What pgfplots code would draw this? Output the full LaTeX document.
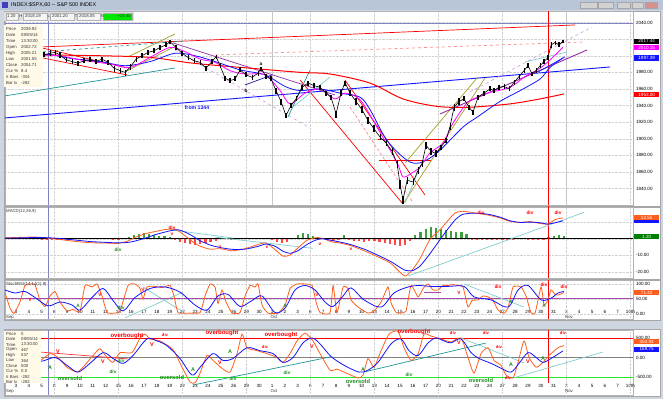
\documentclass[border=0pt]{standalone}
\usepackage{pgfplots}
\pgfplotsset{compat=1.18}
\usepackage{pgfplotstable}
\usepackage{fontspec}
\setmainfont{Liberation Sans}

\definecolor{winbg}{RGB}{206,214,226}
\definecolor{titlebg}{RGB}{184,198,216}
\definecolor{magma}{RGB}{255,0,255}
\definecolor{maBlue}{RGB}{20,20,255}
\definecolor{osc}{RGB}{255,95,30}
\definecolor{tealL}{RGB}{30,150,150}
\definecolor{cyanL}{RGB}{130,205,205}
\definecolor{oliveL}{RGB}{165,160,40}
\definecolor{purp}{RGB}{150,45,160}
\definecolor{lav}{RGB}{215,165,230}
\definecolor{salmonL}{RGB}{255,140,140}
\definecolor{grn}{RGB}{30,140,30}
\definecolor{histG}{RGB}{60,160,60}
\definecolor{histR}{RGB}{255,70,70}
\definecolor{brightG}{RGB}{40,230,40}
\definecolor{crossh}{RGB}{130,130,200}
\definecolor{infobg}{RGB}{255,249,232}
\definecolor{stochP}{RGB}{165,75,170}
\definecolor{navyL}{RGB}{30,30,150}

\newcommand{\tf}{\fontsize{4.6}{5}\selectfont}

\pgfplotstableread{
d p ep em
-0.86 1999 3 3
-0.5 1998 3 3
-0.1 2001 3 3
0.3 2000 3 3
0.7 2002 3 3
1.1 2000 3 3
1.5 2001 3 3
1.9 1999 3 3
2.19 2001 3 3
2.66 2003 4 3
3.05 2004 3 3
3.44 2001 3 4
3.91 1995 3 3
4.38 1993 3 3
4.84 1991 3 3
5.31 1994 3 3
5.78 1995 3 3
6.25 1993 3 3
6.72 1996 3 3
7.19 1992 3 3
7.66 1985 3 4
8.13 1982 3 3
8.52 1980 3 4
8.91 1986 4 3
9.38 1996 3 3
9.84 2000 3 3
10.31 2004 3 3
10.78 2006 3 3
11.25 2010 3 3
11.72 2013 3 3
12.03 2017 2 3
12.5 2010 3 3
12.97 2003 3 3
13.44 1998 3 3
13.91 1994 3 3
14.38 1992 3 3
14.84 1985 3 3
15.31 1993 3 3
15.63 1999 2 3
15.94 1988 3 3
16.33 1973 3 3
16.72 1970 3 3
17.11 1972 3 3
17.5 1983 3 3
17.97 1977 3 3
18.44 1974 3 3
18.91 1979 3 3
19.14 1985 2 3
19.53 1975 3 3
19.92 1972 3 3
20.31 1958 3 4
20.7 1945 3 4
21.09 1928 3 3
21.48 1940 3 3
21.88 1948 3 3
22.34 1962 3 3
22.81 1967 3 3
23.28 1964 3 3
23.75 1962 3 3
24.22 1955 3 3
24.61 1950 3 3
25.0 1930 4 5
25.39 1955 4 4
25.7 1968 2 4
26.09 1955 4 4
26.56 1945 4 4
27.03 1935 4 4
27.5 1922 4 4
27.97 1912 4 4
28.44 1902 4 4
28.91 1895 4 4
29.38 1885 4 4
29.77 1870 4 5
30.0 1845 5 5
30.23 1826 5 5
30.55 1850 4 4
31.02 1848 4 4
31.41 1862 4 4
31.72 1870 4 4
32.03 1892 4 4
32.42 1885 4 4
32.81 1882 4 4
33.2 1890 3 3
33.59 1898 3 3
33.91 1915 4 4
34.22 1938 4 4
34.61 1945 4 4
35.0 1948 3 3
35.39 1938 3 3
35.7 1932 3 3
36.09 1950 3 3
36.56 1955 3 3
37.03 1960 3 3
37.34 1958 3 3
37.73 1962 3 3
38.13 1963 3 3
38.52 1960 3 3
38.91 1968 3 3
39.3 1975 3 3
39.69 1982 3 3
40.0 1988 3 3
40.31 1978 3 3
40.63 1982 3 3
40.94 1988 3 3
41.25 1993 3 3
41.56 1998 3 3
41.8 2013 3 4
42.11 2016 2 3
42.42 2013 3 3
42.73 2017.44 1 2
}\price

\pgfplotstableread{
d v
-0.86 2000
2.19 2000
3.44 2000
5.0 1995
7.34 1990
8.91 1986
10.47 1998
12.03 2010
13.2 2005
14.38 1996
15.55 1992
16.72 1982
17.89 1978
19.45 1977
20.63 1958
21.41 1942
22.58 1955
23.75 1960
24.92 1948
25.7 1955
26.88 1947
28.2 1914
29.77 1871
30.23 1854
30.94 1859
31.56 1866
32.34 1883
33.36 1895
34.14 1919
35.23 1943
36.02 1950
36.8 1955
38.59 1962
39.77 1975
40.94 1985
41.72 1995
42.73 2010.15
}\mafast

\pgfplotstableread{
d v
-0.86 2001
2.19 2002
4.22 1997
6.56 1993
8.52 1988
10.47 1993
12.42 2003
13.98 2000
15.55 1993
17.5 1983
19.45 1977
21.02 1963
22.19 1958
23.75 1960
25.31 1955
26.88 1950
27.66 1935
28.98 1898
30.55 1874
31.56 1871
32.89 1883
34.92 1914
36.02 1926
37.81 1945
39.38 1958
40.94 1972
41.72 1986
42.73 1997.39
}\maslow

\pgfplotstableread{
d v
-0.86 2003
2.66 2001
6.56 2000
10.47 1998
13.83 1991
18.28 1985
22.19 1980
24.53 1978
27.66 1967
30.23 1948
32.89 1939
35.47 1938
38.59 1942
40.94 1948
42.81 1954
}\malong

\pgfplotstableread{
d m s
-0.86 0.5 0.4
0.31 0.8 0.5
1.48 1.0 0.7
2.50 0.4 0.6
3.44 -0.5 0.1
4.61 -1.6 -0.8
5.78 -2.4 -1.7
6.95 -2.6 -2.2
7.97 -2.8 -2.5
8.67 -1.6 -2.3
9.30 0.8 -1.4
10.08 3.0 0.3
10.86 4.3 2.4
11.64 5.5 4.0
12.19 5.8 5.0
12.66 4.8 5.4
13.20 1.8 4.0
13.75 -1.5 1.8
14.38 -4.5 -1.2
15.16 -6.3 -3.8
15.94 -6.0 -5.3
16.88 -7.3 -6.4
17.89 -6.0 -6.3
18.91 -3.5 -4.6
19.53 -2.6 -3.2
20.23 -6.5 -4.5
20.86 -10.5 -7.6
21.41 -9.8 -8.8
22.03 -5.5 -7.2
22.73 -1.0 -3.5
23.36 0.5 -1.0
23.91 0.3 0.0
24.61 -1.8 -1.0
25.31 -2.6 -2.0
26.17 -4.2 -3.6
27.27 -7.5 -6.5
28.28 -11.0 -10.0
29.22 -14.5 -13.5
29.84 -19.0 -16.5
30.39 -22.5 -19.0
30.94 -19.0 -19.3
31.56 -12.0 -16.5
32.34 -0.5 -9.0
33.13 5.5 -0.5
33.75 11.0 6.0
34.30 15.5 11.3
34.84 16.5 14.5
35.47 16.0 15.3
36.25 15.0 15.3
37.03 14.0 14.5
37.81 12.5 13.0
38.59 10.5 10.8
39.38 9.8 9.8
40.16 10.3 10.0
40.94 9.2 9.6
41.56 8.8 8.8
42.11 11.5 9.6
42.73 12.55 10.8
}\macd

\pgfplotstableread{
d h
-0.8 0.2
-0.4 0.3
0.0 0.3
0.4 0.4
0.8 0.4
1.2 0.3
1.6 0.2
2.0 -0.2
2.4 -0.4
2.8 -0.5
3.2 -0.5
3.6 -0.4
4.0 -0.3
4.4 0.2
4.8 0.3
5.2 0.3
5.6 0.3
6.0 0.3
6.4 0.2
6.8 0.3
7.2 0.2
7.6 -0.3
8.0 -0.4
8.4 0.4
8.8 1.2
9.2 2.2
9.6 3.0
10.0 3.3
10.4 2.8
10.8 2.2
11.2 1.8
11.6 1.4
12.0 0.8
12.4 -0.6
12.8 -1.8
13.2 -2.8
13.6 -3.4
14.0 -3.6
14.4 -3.4
14.8 -2.8
15.2 -2.2
15.6 -1.2
16.0 0.4
16.4 0.6
16.8 -0.5
17.2 0.3
17.6 0.5
18.0 0.3
18.4 0.5
18.8 0.6
19.2 0.5
19.6 0.3
20.0 -1.0
20.4 -2.0
20.8 -2.8
21.2 -1.8
21.6 0.6
22.0 2.4
22.4 3.6
22.8 3.0
23.2 1.8
23.6 0.8
24.0 0.3
24.4 -0.8
24.8 -1.2
25.2 -1.0
25.6 2.0
26.0 -0.6
26.4 -1.2
26.8 -1.6
27.2 -1.8
27.6 -1.5
28.0 -1.6
28.4 -1.8
28.8 -2.5
29.2 -3.2
29.6 -3.8
30.0 -4.5
30.4 -4.0
30.8 -1.2
31.2 2.0
31.6 4.0
32.0 5.8
32.4 7.0
32.8 6.6
33.2 6.0
33.6 5.4
34.0 4.8
34.4 4.2
34.8 4.0
35.2 3.0
35.6 -0.4
36.0 -0.5
36.4 -0.6
36.8 -0.4
37.2 -0.6
37.6 -0.8
38.0 -0.7
38.4 -0.5
38.8 -0.3
39.2 0.3
39.6 0.4
40.0 -0.3
40.4 -0.5
40.8 -0.6
41.2 -0.4
41.6 0.8
42.0 1.8
42.4 2.0
42.8 1.6
}\hist

\pgfplotstableread{
d v
-0.86 70
-0.47 20
-0.16 2
0.31 40
0.70 95
1.09 100
1.48 98
1.88 45
2.27 25
2.66 60
3.05 75
3.44 40
3.98 10
4.45 15
5.00 8
5.39 95
5.94 90
6.33 100
6.72 60
7.11 5
7.73 3
8.13 10
8.75 95
9.30 100
9.69 85
9.92 50
10.23 90
10.86 92
11.41 88
12.03 95
12.34 60
12.66 5
13.59 3
14.38 5
14.77 60
15.16 100
15.55 90
15.78 35
16.09 80
16.41 40
16.88 3
17.50 5
17.89 60
18.28 95
18.67 90
18.91 100
19.22 30
19.69 3
20.47 3
21.02 30
21.41 85
21.95 100
22.58 100
23.13 95
23.44 40
23.75 5
24.53 3
24.77 95
25.08 5
25.55 90
25.94 85
26.17 47
26.72 23
27.50 3
27.97 10
28.52 40
29.06 90
29.30 37
29.69 5
30.08 3
30.47 10
30.86 95
31.41 57
31.80 85
32.19 100
32.58 80
32.97 80
33.36 95
33.75 95
34.14 98
34.53 95
34.92 90
35.31 23
35.63 45
36.09 47
36.48 60
36.88 57
37.27 45
37.66 13
38.13 3
38.44 20
38.83 90
39.45 90
39.84 60
40.23 5
40.55 3
41.02 90
41.25 30
41.56 47
41.80 80
42.11 65
42.34 63
42.81 71.42
}\stk

\pgfplotstableread{
d v
-0.86 80
-0.08 70
0.70 75
1.48 55
2.50 27
3.44 40
4.38 30
5.00 13
5.94 55
6.80 85
7.58 45
8.36 10
9.30 55
10.47 85
11.64 90
12.81 73
13.98 30
14.92 13
15.78 60
16.56 65
17.50 25
18.44 45
19.22 60
20.23 5
21.02 20
21.80 80
22.58 95
23.36 80
24.14 40
24.77 25
25.55 60
26.17 87
27.19 47
28.52 23
29.53 70
30.63 90
31.41 95
32.42 92
33.75 92
35.00 92
35.78 57
37.11 47
38.44 23
39.22 80
40.00 95
41.02 47
41.80 53
42.34 70
42.81 75
}\std

\pgfplotstableread{
d v
-0.86 0
-0.08 -150
0.70 -50
1.33 50
1.88 -75
2.66 100
3.28 0
3.98 -250
4.77 -375
5.23 -250
6.02 50
6.56 225
7.11 0
7.58 -125
8.13 125
9.06 125
9.69 500
10.08 600
10.47 475
11.25 425
12.27 200
12.97 -250
13.59 -625
13.98 -650
14.38 -400
14.92 50
15.39 -75
16.09 -275
16.72 -375
17.27 100
17.66 600
18.05 250
18.83 175
19.61 100
20.39 0
20.86 -125
21.41 100
21.95 425
22.58 625
23.20 425
23.75 100
24.53 -325
25.08 -300
25.63 -375
26.72 -525
27.11 -450
27.50 -25
27.97 -250
28.52 175
29.14 600
29.84 675
30.31 250
30.86 -75
31.41 100
31.88 600
32.42 550
33.20 475
33.98 400
34.77 500
35.31 0
35.78 -400
36.33 100
36.88 250
37.34 -75
37.89 -200
38.28 -450
38.83 -525
39.22 -125
39.69 425
40.08 0
40.63 -250
41.17 -125
41.64 50
42.34 250
42.81 305
}\ccio

\pgfplotstableread{
d v
-0.86 -50
0.31 0
1.88 -100
3.05 0
3.98 -200
4.84 -375
5.78 -150
6.80 125
7.58 -25
8.36 -150
9.14 50
10.23 475
11.02 425
11.80 300
12.81 -25
13.75 -450
14.38 -250
15.39 100
16.17 -75
16.95 -25
18.05 250
19.06 175
20.08 100
20.86 -125
21.64 0
22.42 375
23.13 500
23.75 350
24.61 25
25.63 -200
26.80 -375
27.50 -325
28.28 -125
29.30 350
30.08 475
30.70 175
31.41 50
32.19 375
32.81 500
33.44 425
33.98 375
34.77 475
35.55 125
36.17 -25
37.11 -150
37.89 -275
38.67 -375
39.30 -150
40.00 125
40.63 0
41.17 -125
41.80 -25
42.73 170
}\ccib

\pgfplotsset{
  panel/.style={scale only axis, anchor=south west, xmin=-0.86, xmax=48.2,
    axis line style={draw=gray!60, line width=0.4pt}, tick style={draw=none},
    yticklabel pos=right, tick label style={font=\tf},
    yticklabel style={anchor=west, xshift=-0.5bp},
    grid=major, grid style={densely dotted, gray!35, line width=0.3pt},
    clip=true},
  weekgrid/.style={xtick={3,8,13,18,23,28,33,38,43,48}, xticklabels={}},
  dategrid/.style={xtick={0,...,48},
    xticklabels={3,4,5,8,9,10,11,12,15,16,17,18,19,22,23,24,25,26,29,30,1,2,3,6,7,8,9,10,13,14,15,16,17,20,21,22,23,24,27,28,29,30,31,3,4,5,6,7,10th},
    xmajorgrids=false, ymajorgrids=true,
    extra x ticks={3,8,13,18,23,28,33,38,43,48}, extra x tick labels={},
    extra x tick style={grid=major}},
  tl/.style={line width=0.7bp},
}
\tikzset{lbl/.style={font=\fontsize{4.8}{5}\selectfont\bfseries, inner sep=0pt},
  info/.style={font=\fontsize{4.3}{5}\selectfont, inner sep=0pt, anchor=west, text=black!80}}

\begin{document}
\begin{tikzpicture}
% window background and panels
\begin{scope}[x=1bp,y=-1bp,shift={(0,399bp)}]
\fill[winbg] (0,0) rectangle (663,399);
\fill[titlebg] (0,0) rectangle (663,10.5);
\fill[white, draw=gray!70] (4,11) rectangle (660,206);
\fill[white, draw=gray!70] (4,207) rectangle (660,279);
\fill[white, draw=gray!70] (4,280) rectangle (660,320);
\fill[white, draw=gray!70] (4,329) rectangle (660,396);
\end{scope}

% ---------------- price panel
\begin{axis}[panel, weekgrid, at={(5bp,194bp)}, width=628bp, height=194bp,
  ymin=1820.2, ymax=2053.9, ytick={1840,1860,...,2040},
  yticklabels={1840.00,1860.00,1880.00,1900.00,1920.00,1940.00,1960.00,1980.00,,,2040.00}]
\addplot[gray!45, line width=0.4bp] coordinates {(20,1820) (20,2054)};
\addplot[gray!45, line width=0.4bp] coordinates {(43,1820) (43,2054)};
\addplot[crossh, line width=0.8bp] coordinates {(-0.86,2039.5) (48.2,2039.5)};
\addplot[crossh, line width=0.8bp] coordinates {(2.5,1820) (2.5,2054)};
\addplot[red, line width=0.5bp] coordinates {(41.6,1820) (41.6,2054)};
% trend lines
\addplot[red, tl] coordinates {(2.03,2010.6) (43.67,2037.1)};
\addplot[salmonL, tl, dashed] coordinates {(15.55,2001) (44.45,2016.6)};
\addplot[tealL, tl, dashed] coordinates {(2.11,2004.6) (13.2,2017.8)};
\addplot[tealL, tl] coordinates {(-0.86,1951.6) (12.42,1985.3)};
\addplot[maBlue, line width=0.9bp] coordinates {(-0.86,1925.1) (46.41,1986.5)};
\addplot[purp, tl] coordinates {(12.27,2015.4) (24.92,1952.8)};
\addplot[lav, tl, dashed] coordinates {(12.42,2007) (22.97,1913)};
\addplot[red, tl] coordinates {(22.19,1970.8) (30.23,1821.4)};
\addplot[red, tl] coordinates {(25.7,1970.8) (31.95,1832.3)};
\addplot[salmonL, tl, densely dashed] coordinates {(26.09,1938.3) (31.02,1822.7)};
\addplot[red, line width=0.9bp] coordinates {(28.28,1898.6) (33.75,1898.6)};
\addplot[red, line width=0.9bp] coordinates {(28.36,1873.3) (32.42,1873.3)};
\addplot[oliveL, tl] coordinates {(30.23,1821.4) (36.64,1973.3)};
\addplot[oliveL, tl] coordinates {(30.39,1870.8) (36.09,1974.5)};
\addplot[cyanL, tl] coordinates {(30.39,1822.7) (31.8,1874.5)};
\addplot[tealL, tl] coordinates {(21.25,1926.3) (22.97,1982.9)};
\addplot[cyanL, tl] coordinates {(21.64,1938.3) (24.53,1974.4)};
\addplot[navyL, tl] coordinates {(17.89,1964.8) (20.0,1976.9)};
\addplot[purp, line width=0.9bp] coordinates {(33.13,1929.9) (44.61,2007)};
\addplot[lav, tl, dashed] coordinates {(35.47,1956.4) (45,2034.7)};
\addplot[cyanL, tl] coordinates {(39.77,1992.5) (43.05,2004.6)};
\addplot[maBlue, tl] coordinates {(40.78,1980.5) (42.89,1998.6)};
\addplot[red, tl] coordinates {(2.03,2009.4) (8.67,1985.3)};
\addplot[red, tl] coordinates {(2.11,1997.3) (8.67,1976.9)};
\addplot[oliveL, tl] coordinates {(8.52,1980.5) (12.19,2009.4)};
\addplot[oliveL, tl] coordinates {(8.75,1998.6) (12.42,2026.3)};
% moving averages
\addplot[red, line width=1bp, smooth, tension=0.5] table[x=d,y=v]{\malong};
\addplot[maBlue, line width=0.8bp, smooth, tension=0.5] table[x=d,y=v]{\maslow};
\addplot[magma, line width=0.8bp, smooth, tension=0.5] table[x=d,y=v]{\mafast};
% price
\addplot[black, line width=0.6bp, error bars/.cd, y dir=both, y explicit,
  error bar style={line width=1.1bp, black}, error mark=none]
  table[x=d, y=p, y error plus=ep, y error minus=em]{\price};
\end{axis}

% ---------------- MACD panel
\begin{axis}[panel, weekgrid, at={(5bp,121bp)}, width=628bp, height=71bp,
  ymin=-23.67, ymax=19.1, ytick={-20,-10,0,10}, yticklabels={-20.00,-10.00,,}]
\addplot[ycomb, draw=histG, line width=2.2bp, restrict y to domain=0:50] table[x=d,y=h]{\hist};
\addplot[ycomb, draw=histR, line width=2.2bp, restrict y to domain=-50:0] table[x=d,y=h]{\hist};
\addplot[black, line width=0.8bp] coordinates {(-0.86,0) (48.2,0)};
\addplot[crossh, line width=0.8bp] coordinates {(2.5,-24) (2.5,20)};
\addplot[red, line width=0.5bp] coordinates {(41.6,-24) (41.6,20)};
\addplot[cyanL, tl] coordinates {(12.03,5.4) (16.95,0.4)};
\addplot[cyanL, tl] coordinates {(15.55,0.9) (23.2,-5.8)};
\addplot[cyanL, tl] coordinates {(30.63,-22.5) (44.38,15.9)};
\addplot[osc, line width=0.8bp, smooth, tension=0.4] table[x=d,y=m]{\macd};
\addplot[maBlue, line width=0.8bp, smooth, tension=0.4] table[x=d,y=s]{\macd};
\end{axis}

% ---------------- StochRSI panel
\begin{axis}[panel, dategrid, at={(5bp,80bp)}, width=628bp, height=39bp,
  ymin=-16.7, ymax=113.3, ytick={0,50,100}, yticklabels={0.00,50.00,100.00},
  xticklabel style={anchor=base, yshift=5.5bp}]
\addplot[stochP, line width=1bp] coordinates {(-0.86,50) (48.2,50)};
\addplot[crossh, line width=0.8bp] coordinates {(2.5,-17) (2.5,114)};
\addplot[red, line width=0.5bp] coordinates {(41.6,-17) (41.6,114)};
\addplot[cyanL, tl] coordinates {(9.92,90) (13.05,7)};
\addplot[cyanL, tl] coordinates {(8.52,-13) (13.05,73)};
\addplot[cyanL, tl] coordinates {(35,100) (39.69,23)};
\addplot[stochP, line width=1bp] coordinates {(10.6,50) (12.0,50)};
\addplot[stochP, line width=1bp] coordinates {(31.9,70) (33.2,70)};
\addplot[osc, line width=0.8bp, smooth, tension=0.3] table[x=d,y=v]{\stk};
\addplot[maBlue, line width=0.8bp, smooth, tension=0.5] table[x=d,y=v]{\std};
\end{axis}

% ---------------- CCI panel
\begin{axis}[panel, dategrid, at={(5bp,4bp)}, width=628bp, height=65bp,
  ymin=-961.5, ymax=705.1, ytick={-500,0,500}, yticklabels={-500.00,0.00,500.00},
  xticklabel style={anchor=base, yshift=7bp}]
\addplot[red, line width=0.8bp] coordinates {(-0.86,500) (48.2,500)};
\addplot[gray, line width=0.6bp] coordinates {(-0.86,0) (48.2,0)};
\addplot[brightG, line width=0.9bp] coordinates {(-0.86,-500) (48.2,-500)};
\addplot[crossh, line width=0.8bp] coordinates {(2.5,-962) (2.5,706)};
\addplot[red, line width=0.5bp] coordinates {(41.6,-650) (41.6,706)};
\addplot[red!80, tl] coordinates {(1.88,140) (8.75,-37)};
\addplot[tealL, tl] coordinates {(13.83,-705) (24.53,13)};
\addplot[tealL, tl] coordinates {(27.19,-372) (36.72,372)};
\addplot[cyanL, tl] coordinates {(34.77,500) (39.69,-141)};
\addplot[cyanL, tl] coordinates {(38.83,-526) (45.86,141)};
\addplot[osc, line width=0.8bp, smooth, tension=0.35] table[x=d,y=v]{\ccio};
\addplot[maBlue, line width=0.8bp, smooth, tension=0.5] table[x=d,y=v]{\ccib};
\end{axis}

% ---------------- overlays
\begin{scope}[x=1bp,y=-1bp,shift={(0,399bp)}]
% title bar
\fill[blue!50!gray] (2,2) rectangle (8,8);
\node[anchor=west, inner sep=0pt, font=\fontsize{5.4}{6}\selectfont] at (11,5.3) {INDEX:\$SPX,60 -{}- S\&P 500 INDEX};
\foreach \a/\b in {580/597,598/613,617/630,632/643}{\fill[gray!35, draw=gray!70] (\a,2.5) rectangle (\b,8.5);}
\fill[red!45!gray!60, draw=gray!70] (645,2.5) rectangle (657,8.5);
% toolbar
\fill[gray!25] (4,12) rectangle (134,21);
\foreach \a/\b in {6/18,23/47,50/74,77/100}{\fill[gray!8, draw=gray!60] (\a,13) rectangle (\b,20);}
\fill[green!85!black!60!green, draw=gray!60] (103,13) rectangle (132,20);
\node[info] at (7,16.5) {1.20};
\node[info] at (19.3,16.5) {H};
\node[info] at (25,16.5) {2018.19};
\node[info] at (47.5,16.5) {L};
\node[info] at (52,16.5) {2001.20};
\node[info] at (74.6,16.5) {T};
\node[info] at (79,16.5) {2018.05};
\node[info] at (100.6,16.5) {N};
\node[info, anchor=east] at (131,16.5) {+23.40};
% price info box
\fill[infobg] (4,25) rectangle (43,87);
\foreach \t [count=\i from 0] in {Price,Date,Time,Open,High,Low,Close,Cur \%,\# Bars,Bar Ix}{\node[info] at (6,29+6.03*\i) {\t};}
\node[info] at (21,29) {2039.92};
\node[info] at (21,35.03) {09/05/14};
\node[info] at (21,41.06) {13:30:00};
\node[info] at (21,47.09) {2002.72};
\node[info] at (21,53.12) {2005.21};
\node[info] at (21,59.15) {2001.55};
\node[info] at (21,65.18) {2004.71};
\node[info] at (21,71.21) {8.4};
\node[info] at (21,77.24) {-304};
\node[info] at (21,83.27) {-282};
% price value boxes
\node[fill=black, text=white, anchor=west, inner sep=0.3bp, minimum width=25bp, minimum height=5.2bp, font=\tf] at (634,41.3) {2017.44};
\node[fill=magma, text=white, anchor=west, inner sep=0.3bp, minimum width=25bp, minimum height=5.2bp, font=\tf] at (634,47.6) {2010.15};
\node[fill=maBlue, text=white, anchor=west, inner sep=0.3bp, minimum width=25bp, minimum height=5.2bp, font=\tf] at (634,58) {1997.39};
\node[fill=red, text=white, anchor=west, inner sep=0.3bp, minimum width=25bp, minimum height=5.2bp, font=\tf] at (634,94.8) {1953.00};
% price texts
\node[lbl, text=maBlue, font=\fontsize{5.2}{6}\selectfont\bfseries] at (197,108) {from 1344};
\node[lbl] at (261,64) {a};
\node[lbl] at (246,91) {b};
% MACD
\node[info] at (6,211.5) {MACD(12,26,9)};
\node[fill=maBlue, anchor=west, inner sep=0pt, minimum width=25bp, minimum height=3.5bp] at (634,221.5) {};
\node[fill=osc, text=white, anchor=west, inner sep=0.3bp, minimum width=25bp, minimum height=5bp, font=\tf] at (634,217.5) {12.55};
\node[fill=green!50!black, text=white, anchor=west, inner sep=0.3bp, minimum width=25bp, minimum height=5bp, font=\tf] at (634,237) {1.20};
\node[lbl, text=grn] at (118,250) {div};
\foreach \x/\y in {172/228,481/213,530/213,558/213}{\node[lbl, text=red] at (\x,\y) {div};}
\foreach \x/\y in {172/234,220/247,267/247,320/244,351/249}{\node[lbl, text=red] at (\x,\y) {v};}
% Stoch
\node[info] at (6,284.5) {StochRSI(14,14(1),9)};
\node[fill=osc, text=white, anchor=west, inner sep=0.3bp, minimum width=25bp, minimum height=5bp, font=\tf] at (634,292.8) {71.42};
\foreach \x/\y in {30/300,100/295,143/290,317/295,459/293}{\node[lbl, text=red] at (\x,\y) {V};}
\foreach \x/\y in {78/306,285/306,511/302,544/306}{\node[lbl, text=grn] at (\x,\y) {A};}
\foreach \x/\y in {498/287,544/285,564/287}{\node[lbl, text=red] at (\x,\y) {div};}
\node[lbl, text=grn] at (121,307.5) {div};
\node[info, anchor=center] at (10,317.5) {Sep};
\node[info, anchor=center] at (274,317.5) {Oct};
\node[info, anchor=center] at (569,317.5) {Nov};
% CCI
\fill[infobg] (4,331) rectangle (41,383.5);
\foreach \t [count=\i from 0] in {Price,Date,Time,Open,High,Low,Close,Cur \%,\# Bars,Bar Ix}{\node[info] at (6,333.8+5.35*\i) {\t};}
\node[info] at (21,333.8) {0};
\node[info] at (21,339.15) {09/05/14};
\node[info] at (21,344.5) {13:30:00};
\node[info] at (21,349.85) {467};
\node[info] at (21,355.2) {537};
\node[info] at (21,360.55) {364};
\node[info] at (21,365.9) {500};
\node[info] at (21,371.25) {0.0};
\node[info] at (21,376.6) {-282};
\node[info] at (21,381.95) {-282};
\node[fill=osc, text=white, anchor=west, inner sep=0.3bp, minimum width=25bp, minimum height=5bp, font=\tf] at (634,342) {304.94};
\node[fill=maBlue, text=white, anchor=west, inner sep=0.3bp, minimum width=25bp, minimum height=5bp, font=\tf] at (634,349.2) {169.75};
\foreach \x/\y in {127/336,222/333,281/335,414/332}{\node[lbl, text=red, font=\fontsize{6}{7}\selectfont\bfseries] at (\x,\y) {overbought};}
\foreach \x/\y in {70/378,172/377,358/381,481/380}{\node[lbl, text=grn, font=\fontsize{5.8}{7}\selectfont\bfseries] at (\x,\y) {oversold};}
\foreach \x/\y in {165/335,265/347,453/333,486/333,499/347,508/378,563/333}{\node[lbl, text=red, font=\fontsize{4.2}{5}\selectfont\bfseries] at (\x,\y) {div};}
\foreach \x/\y in {113/372,121/361,233/379,287/373,409/375}{\node[lbl, text=grn] at (\x,\y) {div};}
\foreach \x/\y in {58/352,103/362,152/345,220/363,312/347,459/343,528/362}{\node[lbl, text=red, font=\fontsize{5.4}{6}\selectfont\bfseries] at (\x,\y) {V};}
\foreach \x/\y in {50/368,193/370,230/352,363/370,511/365,543/359}{\node[lbl, text=grn, font=\fontsize{5.4}{6}\selectfont\bfseries] at (\x,\y) {A};}
\node[info, anchor=center] at (10,391.5) {Sep};
\node[info, anchor=center] at (274,391.5) {Oct};
\node[info, anchor=center] at (569,391.5) {Nov};
\end{scope}
\useasboundingbox (0,0) rectangle (663bp,399bp);
\end{tikzpicture}
\end{document}
